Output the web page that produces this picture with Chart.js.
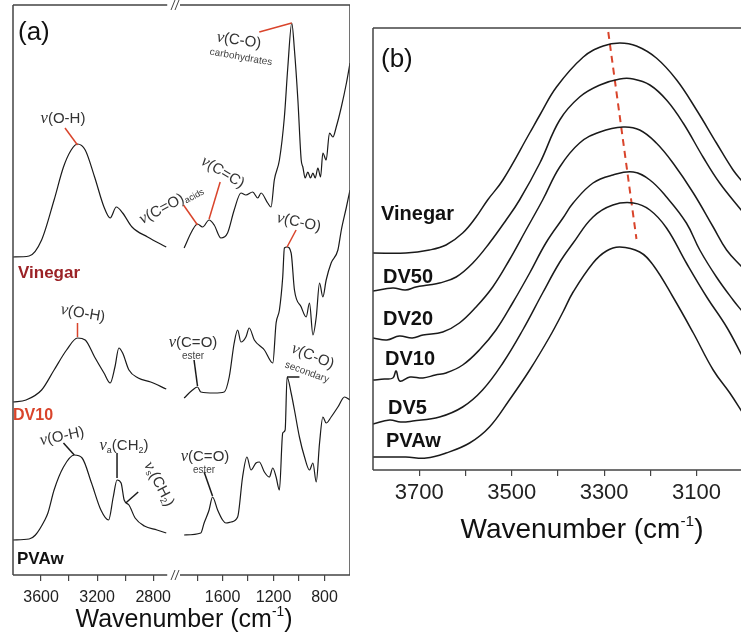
<!DOCTYPE html>
<html>
<head>
<meta charset="utf-8">
<script src="https://cdn.jsdelivr.net/npm/chart.js@4.4.1/dist/chart.umd.min.js"></script>
<style>
body { margin:0; width:741px; height:640px; overflow:hidden; position:relative; background:#fff;
       font-family:"Liberation Sans", Arial, sans-serif; }
canvas { position:absolute; top:0; }
.t { position:absolute; white-space:nowrap; color:#333; font-size:15px; line-height:1; }
.c { transform:translate(-50%,-50%); }
.l { transform:translateY(-50%); }
.nu { font-family:"Liberation Serif", serif; font-style:italic; font-size:1.1em; }
.sm { font-size:10px; color:#444; }
.lab { font-weight:bold; color:#111; }
sub { font-size:60%; vertical-align:-0.25em; }
sup { font-size:55%; vertical-align:0.8em; }
</style>
</head>
<body>
<canvas id="aLeft" width="178" height="640" style="left:0"></canvas>
<canvas id="aRight" width="190" height="640" style="left:160px"></canvas>
<canvas id="bChart" width="446" height="640" style="left:343px"></canvas>

<!-- panel (a) texts -->
<div class="t l" style="left:18px;top:31px;font-size:26px;color:#111">(a)</div>
<div class="t c" style="left:63px;top:118px"><span class="nu">ν</span>(O-H)</div>
<div class="t c" style="left:239px;top:40px;transform:translate(-50%,-50%) rotate(8deg)"><span class="nu">ν</span>(C-O)</div>
<div class="t c sm" style="left:241px;top:57px;transform:translate(-50%,-50%) rotate(10deg)">carbohydrates</div>
<div class="t c" style="left:171px;top:204px;transform:translate(-50%,-50%) rotate(-28deg)"><span class="nu">ν</span>(C=O)<sub>acids</sub></div>
<div class="t c" style="left:223px;top:172px;transform:translate(-50%,-50%) rotate(31deg)"><span class="nu">ν</span>(C=C)</div>
<div class="t c" style="left:299px;top:222px;transform:translate(-50%,-50%) rotate(12deg)"><span class="nu">ν</span>(C-O)</div>
<div class="t l" style="left:18px;top:272px;font-size:17px;font-weight:bold;color:#9b2226">Vinegar</div>

<div class="t c" style="left:83px;top:313px;transform:translate(-50%,-50%) rotate(10deg)"><span class="nu">ν</span>(O-H)</div>
<div class="t c" style="left:193px;top:342px"><span class="nu">ν</span>(C=O)</div>
<div class="t c sm" style="left:193px;top:356px">ester</div>
<div class="t c" style="left:313px;top:356px;transform:translate(-50%,-50%) rotate(22deg)"><span class="nu">ν</span>(C-O)</div>
<div class="t c sm" style="left:307px;top:372px;transform:translate(-50%,-50%) rotate(20deg)">secondary</div>
<div class="t l" style="left:13px;top:415px;font-size:16px;font-weight:bold;color:#d9442b">DV10</div>

<div class="t c" style="left:62px;top:436px;transform:translate(-50%,-50%) rotate(-12deg)"><span class="nu">ν</span>(O-H)</div>
<div class="t c" style="left:124px;top:446px"><span class="nu">ν</span><sub>a</sub>(CH<sub>2</sub>)</div>
<div class="t c" style="left:159px;top:484px;transform:translate(-50%,-50%) rotate(62deg)"><span class="nu">ν</span><sub>s</sub>(CH<sub>2</sub>)</div>
<div class="t c" style="left:205px;top:456px"><span class="nu">ν</span>(C=O)</div>
<div class="t c sm" style="left:204px;top:470px">ester</div>
<div class="t l lab" style="left:17px;top:558px;font-size:17px">PVAw</div>

<div class="t c" style="left:184px;top:618px;font-size:25px;color:#111">Wavenumber (cm<sup>-1</sup>)</div>

<!-- panel (b) texts -->
<div class="t l" style="left:381px;top:58px;font-size:26px;color:#111">(b)</div>
<div class="t l lab" style="left:381px;top:213px;font-size:20px">Vinegar</div>
<div class="t l lab" style="left:383px;top:276px;font-size:20px">DV50</div>
<div class="t l lab" style="left:383px;top:318px;font-size:20px">DV20</div>
<div class="t l lab" style="left:385px;top:358px;font-size:20px">DV10</div>
<div class="t l lab" style="left:388px;top:407px;font-size:20px">DV5</div>
<div class="t l lab" style="left:386px;top:440px;font-size:20px">PVAw</div>
<div class="t c" style="left:582px;top:528px;font-size:28px;color:#111">Wavenumber (cm<sup>-1</sup>)</div>

<script>
// ---- panel (a): [wavenumber, intensity a.u.] high-wavenumber part (3800-2700)
const vinegarHigh = [[3800,3.18],[3685,3.19],[3596,3.35],[3507,3.75],[3440,4.08],[3385,4.25],[3340,4.31],[3285,4.25],[3218,3.98],[3151,3.68],[3107,3.57],[3063,3.68],[3018,3.62],[2951,3.48],[2840,3.38],[2707,3.28]];
const dv10High = [[3800,1.73],[3707,1.75],[3596,1.85],[3507,2.05],[3418,2.25],[3340,2.37],[3285,2.35],[3218,2.18],[3151,2.02],[3107,1.92],[3073,2.08],[3045,2.27],[3018,2.22],[2973,2.05],[2907,1.97],[2818,1.93],[2707,1.86]];
const pvawHigh = [[3800,0.35],[3685,0.36],[3640,0.40],[3573,0.55],[3551,0.62],[3507,0.85],[3440,1.08],[3363,1.20],[3307,1.17],[3240,0.92],[3173,0.65],[3118,0.55],[3085,0.78],[3058,0.95],[3029,0.92],[3007,0.75],[2973,0.70],[2929,0.57],[2863,0.49],[2773,0.45],[2707,0.42]];

// ---- panel (a): low-wavenumber part (1950-600)
const vinegarLow = [[1902,3.27],[1836,3.45],[1797,3.51],[1757,3.48],[1706,3.55],[1666,3.50],[1613,3.37],[1561,3.42],[1509,3.65],[1456,3.82],[1417,3.80],[1364,3.83],[1324,3.77],[1298,3.82],[1246,3.72],[1220,3.68],[1194,3.95],[1154,4.15],[1115,4.58],[1088,5.08],[1057,5.52],[1036,5.25],[1009,4.75],[983,4.15],[970,4.08],[952,3.97],[931,4.03],[910,3.97],[891,4.02],[873,3.97],[852,4.07],[831,3.98],[813,4.22],[787,4.15],[761,4.42],[734,4.38],[708,4.48],[668,4.68],[628,4.92],[600,5.12]];
const dv10Low = [[1902,1.77],[1836,1.85],[1797,1.88],[1771,1.83],[1666,1.82],[1587,1.83],[1548,1.98],[1509,2.32],[1482,2.45],[1456,2.33],[1417,2.38],[1391,2.47],[1351,2.35],[1272,2.25],[1206,2.12],[1180,2.52],[1154,2.65],[1128,2.98],[1115,3.27],[1094,3.28],[1062,3.22],[1036,2.85],[983,2.68],[944,2.58],[918,2.72],[891,2.40],[865,2.58],[839,2.92],[813,2.78],[787,2.95],[748,3.12],[695,3.25],[668,3.45],[628,3.68],[600,3.85]];
const pvawLow = [[1902,0.40],[1771,0.42],[1745,0.52],[1706,0.65],[1679,0.78],[1639,0.65],[1600,0.55],[1574,0.52],[1535,0.53],[1482,0.58],[1443,0.98],[1409,1.18],[1377,1.05],[1338,1.12],[1312,1.13],[1272,1.03],[1233,0.98],[1206,1.07],[1180,0.98],[1154,0.85],[1128,1.42],[1109,1.45],[1094,1.98],[1062,1.82],[1036,1.65],[997,1.38],[957,1.18],[918,1.05],[891,1.12],[865,0.93],[839,1.32],[813,1.58],[787,1.52],[748,1.58],[695,1.68],[643,1.78],[600,1.75]];

// ---- panel (b): O-H band
const vinegarOH = [[3800,2.17],[3729,2.17],[3678,2.20],[3642,2.25],[3606,2.37],[3577,2.53],[3552,2.70],[3519,2.90],[3461,3.37],[3439,3.55],[3403,3.83],[3345,4.13],[3302,4.24],[3266,4.27],[3230,4.24],[3187,4.12],[3143,3.90],[3100,3.60],[3057,3.27],[3021,3.00],[3000,2.88]];
const dv50OH = [[3800,1.79],[3757,1.82],[3730,1.80],[3707,1.83],[3680,1.85],[3656,1.87],[3620,1.93],[3584,2.07],[3548,2.27],[3512,2.50],[3483,2.70],[3439,3.07],[3396,3.50],[3353,3.73],[3309,3.85],[3266,3.91],[3237,3.91],[3201,3.85],[3165,3.70],[3129,3.47],[3086,3.13],[3050,2.87],[3000,2.58]];
const dv20OH = [[3800,1.32],[3770,1.30],[3743,1.34],[3715,1.32],[3692,1.35],[3649,1.38],[3613,1.47],[3577,1.63],[3541,1.83],[3505,2.10],[3469,2.40],[3433,2.70],[3396,3.03],[3353,3.27],[3309,3.38],[3259,3.43],[3223,3.40],[3187,3.27],[3151,3.07],[3107,2.77],[3064,2.43],[3035,2.20],[3000,2.02]];
const dv10OH = [[3800,0.90],[3775,0.91],[3757,0.92],[3750,0.99],[3742,0.89],[3720,0.93],[3692,0.92],[3665,0.95],[3642,0.97],[3606,1.05],[3570,1.20],[3534,1.40],[3498,1.67],[3461,1.97],[3426,2.27],[3389,2.52],[3367,2.67],[3324,2.87],[3281,2.95],[3237,2.98],[3201,2.90],[3165,2.73],[3122,2.47],[3093,2.20],[3057,1.93],[3021,1.70],[3000,1.58]];
const dv5OH = [[3800,0.46],[3764,0.50],[3740,0.48],[3714,0.49],[3656,0.53],[3606,0.63],[3563,0.80],[3519,1.07],[3476,1.40],[3433,1.77],[3397,2.07],[3367,2.27],[3324,2.53],[3281,2.65],[3237,2.67],[3201,2.60],[3165,2.42],[3122,2.07],[3078,1.73],[3035,1.43],[3000,1.13]];
const pvawOH = [[3800,0.13],[3729,0.13],[3685,0.12],[3642,0.17],[3591,0.27],[3548,0.43],[3505,0.70],[3461,1.00],[3418,1.33],[3389,1.58],[3367,1.78],[3324,2.07],[3295,2.19],[3266,2.23],[3223,2.18],[3194,2.05],[3151,1.73],[3107,1.37],[3064,1.00],[3028,0.77],[3000,0.57]];
const peakShift = [[3291,4.38],[3230,2.31]];

// ---- ticks
const ticksA1 = [3600,3400,3200,3000,2800];
const labelsA1 = [3600,3200,2800];
const ticksA2 = [1800,1600,1400,1200,1000,800];
const labelsA2 = [1600,1200,800];
const ticksB = [3700,3600,3500,3400,3300,3200,3100,3000];
const labelsB = [3700,3500,3300,3100];

// ---- annotation leader lines [from, to] in data units
const RED = '#d9442b', INK = '#1a1a1a';
const leadersA1 = [
    {from:[3429,4.47], to:[3340,4.30], color:RED},
    {from:[3340,2.52], to:[3340,2.38], color:RED},
    {from:[3440,1.32], to:[3363,1.20], color:INK},
    {from:[3058,1.22], to:[3058,0.97], color:INK},
    {from:[2996,0.72], to:[2907,0.83], color:INK}
];
const leadersA2 = [
    {from:[1312,5.43], to:[1057,5.52], color:RED},
    {from:[1907,3.70], to:[1797,3.50], color:RED},
    {from:[1619,3.93], to:[1706,3.56], color:RED},
    {from:[1023,3.45], to:[1094,3.28], color:RED},
    {from:[1824,2.15], to:[1797,1.89], color:INK},
    {from:[1745,1.03], to:[1679,0.79], color:INK},
    {from:[1094,1.98], to:[997,1.98], color:INK}
];

const decor = {
    id: 'decor',
    afterDatasetsDraw(chart, args, opts) {
        const ctx = chart.ctx, a = chart.chartArea;
        const x = chart.scales.x, y = chart.scales.y;
        ctx.save();
        (opts.leaders || []).forEach(l => {
            ctx.strokeStyle = l.color;
            ctx.lineWidth = 1.5;
            ctx.beginPath();
            ctx.moveTo(x.getPixelForValue(l.from[0]), y.getPixelForValue(l.from[1]));
            ctx.lineTo(x.getPixelForValue(l.to[0]), y.getPixelForValue(l.to[1]));
            ctx.stroke();
        });
        const s = opts.sides || [];
        ctx.strokeStyle = '#444';
        ctx.lineWidth = 1.5;
        ctx.beginPath();
        if (s.includes('left')) { ctx.moveTo(a.left, a.top); ctx.lineTo(a.left, a.bottom); }
        if (s.includes('right')) { ctx.moveTo(a.right, a.top); ctx.lineTo(a.right, a.bottom); }
        if (s.includes('top')) { ctx.moveTo(a.left, a.top); ctx.lineTo(a.right, a.top); }
        if (s.includes('bottom')) { ctx.moveTo(a.left, a.bottom); ctx.lineTo(a.right, a.bottom); }
        ctx.stroke();
        // axis break marks
        if (opts.breakMarks) {
            [a.top, a.bottom].forEach(yy => {
                ctx.fillStyle = '#fff';
                ctx.fillRect(a.left - 5, yy - 1.5, 7, 3);
                ctx.strokeStyle = '#444';
                ctx.lineWidth = 1;
                ctx.beginPath();
                [-5, -1].forEach(dx => {
                    ctx.moveTo(a.left + dx - 2, yy + 5);
                    ctx.lineTo(a.left + dx + 2, yy - 5);
                });
                ctx.stroke();
            });
        }
        ctx.restore();
    }
};

function line(points, extra) {
    return Object.assign({
        data: points.map(p => ({x: p[0], y: p[1]})),
        borderColor: INK,
        borderWidth: 1.2,
        pointRadius: 0,
        cubicInterpolationMode: 'monotone',
        fill: false
    }, extra || {});
}

// smoother curves for the broad O-H band
function band(points) {
    return line(points, {cubicInterpolationMode: 'default', tension: 0.4, borderWidth: 1.5});
}

function makeChart(id, datasets, xr, yMax, ticks, labels, fontSize, labelPad, padding, decorOpts) {
    return new Chart(document.getElementById(id).getContext('2d'), {
        type: 'line',
        data: {datasets: datasets},
        plugins: [decor],
        options: {
            responsive: false,
            animation: false,
            events: [],
            layout: {padding: padding},
            plugins: {legend: {display: false}, tooltip: {enabled: false}, decor: decorOpts},
            scales: {
                x: {
                    type: 'linear',
                    reverse: true,
                    min: xr[1],
                    max: xr[0],
                    afterBuildTicks: s => { s.ticks = ticks.map(v => ({value: v})); },
                    afterFit: s => { s.height = 40; },
                    grid: {drawOnChartArea: false, drawTicks: true, tickLength: 6, color: '#444', lineWidth: 1.2},
                    border: {display: false},
                    ticks: {
                        callback: v => labels.includes(v) ? String(v) : '',
                        font: {family: 'Liberation Sans', size: fontSize},
                        color: '#222',
                        padding: labelPad,
                        maxRotation: 0,
                        autoSkip: false
                    }
                },
                y: {display: false, min: 0, max: yMax}
            }
        }
    });
}

makeChart('aLeft',
    [line(vinegarHigh), line(dv10High), line(pvawHigh)],
    [3800, 2700], 5.70, ticksA1, labelsA1, 16, 7,
    {left: 13, right: 0, top: 5, bottom: 25},
    {sides: ['left', 'top', 'bottom'], leaders: leadersA1});

makeChart('aRight',
    [line(vinegarLow), line(dv10Low), line(pvawLow)],
    [1950, 600], 5.70, ticksA2, labelsA2, 16, 7,
    {left: 18, right: 0, top: 5, bottom: 25},
    {sides: ['top', 'right', 'bottom'], leaders: leadersA2, breakMarks: true});

makeChart('bChart',
    [band(vinegarOH), band(dv50OH), band(dv20OH), band(dv10OH), band(dv5OH), band(pvawOH),
     line(peakShift, {borderColor: RED, borderWidth: 2, borderDash: [7, 5], cubicInterpolationMode: 'default', tension: 0})],
    [3800, 2900], 4.42, ticksB, labelsB, 22, 4,
    {left: 30, right: 0, top: 28, bottom: 130},
    {sides: ['left', 'top', 'bottom', 'right']});
</script>
</body>
</html>
